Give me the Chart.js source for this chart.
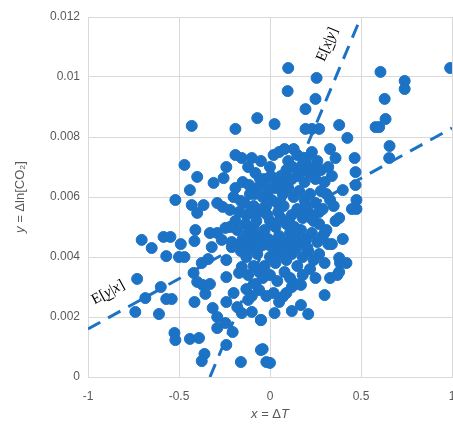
<!DOCTYPE html>
<html><head><meta charset="utf-8">
<script src="https://cdn.jsdelivr.net/npm/chart.js@4"></script>
<style>body{margin:0;background:#fff}#w{width:453px;height:426px}</style>
</head><body><div id="w"><canvas id="c"></canvas></div>
<script>
const xTicks=[-1,-0.5,0,0.5,1];
const yTicks=[0,0.002,0.004,0.006,0.008,0.01,0.012];
const xVals=[0.10,0.256,0.097,0.25,0.195,0.025,0.195,0.23,0.27,0.38,0.425,0.607,0.74,0.74,0.63,0.635,0.58,0.60,0.657,0.655,0.99,0.465,0.47,0.475,0.475,0.45,0.47,0.40,0.33,0.36,0.32,0.34,0.38,0.385,0.37,0.30,0.21,0.17,0.12,0.07,0.025,-0.05,-0.04,0.0,0.17,0.12,0.30,
-0.43,-0.19,-0.07,-0.47,-0.40,-0.44,-0.52,-0.43,-0.365,-0.40,-0.31,-0.255,-0.24,-0.19,-0.19,-0.155,-0.29,-0.26,-0.22,-0.16,-0.41,-0.415,-0.705,-0.65,-0.585,-0.547,-0.49,-0.57,-0.50,-0.47,-0.73,-0.685,-0.57,-0.54,-0.60,-0.74,-0.61,-0.42,-0.40,-0.37,-0.33,-0.355,-0.415,-0.315,-0.525,-0.52,-0.44,-0.39,-0.36,-0.375,-0.24,-0.16,-0.29,-0.245,-0.205,-0.29,-0.24,-0.20,-0.18,-0.155,-0.10,-0.05,-0.05,-0.02,-0.13,-0.12,-0.24,-0.375,-0.34,-0.32,-0.33,-0.29,-0.245,-0.265,-0.21,-0.24,-0.155,-0.17,
-0.15,-0.12,-0.10,-0.08,-0.05,-0.03,0.0,0.02,0.05,0.08,0.1,0.13,0.15,0.18,0.2,0.23,0.26,0.28,0.25,0.22,0.19,0.16,0.12,0.09,0.06,0.03,-0.01,-0.04,-0.07,-0.11,-0.14,-0.17,-0.19,-0.13,-0.09,-0.06,-0.02,0.01,0.04,0.07,0.10,0.13,0.16,0.19,0.22,0.25,0.28,0.30,0.27,0.24,0.21,0.18,0.15,0.12,0.09,0.06,0.03,0.0,-0.03,-0.06,-0.09,-0.12,-0.15,-0.18,-0.21,-0.16,-0.13,-0.10,-0.07,-0.04,-0.01,0.02,0.05,0.08,0.11,0.14,0.17,0.20,0.23,0.26,0.29,0.27,0.24,0.21,0.18,0.15,0.12,0.09,0.06,0.03,0.0,-0.03,-0.06,-0.09,-0.12,-0.08,-0.04,0.0,0.04,0.08,0.11,0.14,0.18,0.22,0.25,0.02,-0.02,0.05,-0.06,0.09,-0.1,
0.32,0.34,0.36,0.33,0.31,0.35,0.38,0.4,0.42,0.38,0.33,0.3,
-0.135,-0.105,-0.075,-0.045,-0.015,0.015,0.045,0.075,0.105,0.135,0.165,0.195,0.225,-0.125,-0.095,-0.065,-0.035,-0.005,0.025,0.055,0.085,0.115,0.145,0.175,0.205,-0.115,-0.085,-0.055,-0.025,0.005,0.035,0.065,0.095,0.125,0.155,0.185,0.215,0.245,-0.2,-0.22,-0.18,0.27,0.29,0.31];
const yVals=[0.0103,0.00997,0.00953,0.00927,0.00893,0.00843,0.00827,0.00827,0.00827,0.0084,0.00797,0.01017,0.00987,0.0096,0.00927,0.0086,0.00833,0.00833,0.0077,0.0073,0.0103,0.0073,0.00683,0.0059,0.0056,0.0056,0.0064,0.00623,0.0059,0.0052,0.00443,0.00443,0.00397,0.0038,0.0034,0.00273,0.0021,0.0024,0.0022,0.00267,0.00213,0.0019,0.00093,0.00047,0.00307,0.003,0.0048,
0.00837,0.00827,0.00863,0.00707,0.00667,0.00623,0.0059,0.00573,0.00573,0.00547,0.00647,0.00663,0.007,0.0074,0.0063,0.0073,0.0058,0.00567,0.00557,0.00587,0.0049,0.00453,0.00457,0.0043,0.00467,0.00467,0.00443,0.00403,0.004,0.004,0.00327,0.00263,0.0026,0.0026,0.003,0.00217,0.0021,0.00347,0.00317,0.00307,0.0031,0.00277,0.0025,0.0023,0.00147,0.00123,0.00127,0.0013,0.00077,0.00053,0.00107,0.0005,0.00163,0.0018,0.0015,0.002,0.0025,0.0028,0.00233,0.00213,0.00217,0.0019,0.0009,0.0005,0.00293,0.00257,0.00333,0.0038,0.00393,0.00433,0.0048,0.0048,0.00497,0.00457,0.00433,0.0039,0.00367,0.00347,
0.0065,0.0070,0.0073,0.0068,0.0072,0.0066,0.0070,0.0074,0.0075,0.0076,0.0072,0.0076,0.0074,0.0071,0.0073,0.0075,0.0072,0.0069,0.0066,0.0068,0.0065,0.0068,0.0066,0.0069,0.0067,0.0063,0.0062,0.0060,0.0063,0.0061,0.0058,0.0055,0.0052,0.0054,0.0057,0.0055,0.0057,0.0059,0.0058,0.0061,0.0063,0.0060,0.0062,0.0059,0.0061,0.0058,0.0062,0.0065,0.0055,0.0052,0.0055,0.0053,0.0056,0.0054,0.0051,0.0053,0.0050,0.0052,0.0049,0.0047,0.0050,0.0048,0.0046,0.0049,0.0045,0.0042,0.0040,0.0043,0.0041,0.0044,0.0046,0.0045,0.0047,0.0045,0.0048,0.0046,0.0049,0.0046,0.0048,0.0045,0.0047,0.0041,0.0039,0.0042,0.0040,0.0037,0.0041,0.0039,0.0041,0.0038,0.0040,0.0037,0.0035,0.0037,0.0034,0.0031,0.0033,0.0034,0.0032,0.0035,0.0033,0.0031,0.0034,0.0036,0.0033,0.0028,0.0027,0.0025,0.0029,0.0028,0.0027,
0.0070,0.0067,0.0073,0.0076,0.0061,0.0057,0.0053,0.0046,0.0038,0.0035,0.0033,0.0038,
0.0051,0.0055,0.0052,0.0056,0.0054,0.0051,0.0055,0.0057,0.0052,0.0050,0.0055,0.0057,0.0053,0.0044,0.0046,0.0043,0.0047,0.0044,0.0042,0.0044,0.0042,0.0044,0.0043,0.0045,0.0043,0.0064,0.0061,0.0066,0.0064,0.0067,0.0065,0.0064,0.0066,0.0070,0.0067,0.0069,0.0070,0.0069,0.0060,0.0050,0.0044,0.0051,0.0056,0.0049];
const lineYX=[[-1,0.0016],[1,0.0083]];
const lineXY=[[-0.33,0],[0.5,0.012]];
const BLUE='#1c72c4';
const pts=xVals.map((x,i)=>({x,y:yVals[i]}));
const labels={
 id:'lbl',
 afterDraw(ch){
  const c=ch.ctx,xs=ch.scales.x,ys=ch.scales.y;
  function lab(line,t,px,py){
   const a=xs.getPixelForValue(line[0][0]),b=ys.getPixelForValue(line[0][1]);
   const e=xs.getPixelForValue(line[1][0]),f=ys.getPixelForValue(line[1][1]);
   const ang=Math.atan2(f-b,e-a);
   c.save();c.translate(px,py);c.rotate(ang);c.fillStyle='#000';c.textBaseline='alphabetic';
   const parts=[['E[','15px "Liberation Serif"'],[t[0],'italic 15px "Liberation Serif"'],['|','15px "Liberation Serif"'],[t[1],'italic 15px "Liberation Serif"'],[']','15px "Liberation Serif"']];
   let w=0;parts.forEach(p=>{c.font=p[1];w+=c.measureText(p[0]).width;});
   let x=-w/2;
   parts.forEach((p,i)=>{c.font=p[1];const pw=c.measureText(p[0]).width;c.fillText(p[0],x,0);
     if(i==1){c.fillRect(x,3,pw,1);}x+=pw;});
   c.restore();
  }
  lab(lineYX,['y','x'],110,296);
  lab(lineXY,['x','y'],331,46);
  c.save();c.fillStyle='#595959';
  c.font='12px "Liberation Sans"';c.textAlign='center';c.textBaseline='middle';
  xTicks.forEach(v=>c.fillText(String(v),xs.getPixelForValue(v),397));
  c.textAlign='left';
  const xp=[['x','italic 13px "Liberation Sans"'],[' = Δ','13px "Liberation Sans"'],['T','italic 13px "Liberation Sans"']];
  let w=0;xp.forEach(p=>{c.font=p[1];w+=c.measureText(p[0]).width;});
  let x=xs.getPixelForValue(0)-w/2;
  xp.forEach(p=>{c.font=p[1];c.fillText(p[0],x,414);x+=c.measureText(p[0]).width;});
  c.translate(20,ys.getPixelForValue(0.006));c.rotate(-Math.PI/2);
  const yp=[['y','italic 13px "Liberation Sans"'],[' = Δln[CO₂]','13px "Liberation Sans"']];
  w=0;yp.forEach(p=>{c.font=p[1];w+=c.measureText(p[0]).width;});
  x=-w/2;yp.forEach(p=>{c.font=p[1];c.fillText(p[0],x,0);x+=c.measureText(p[0]).width;});
  c.restore();
 }
};
new Chart(document.getElementById('c'),{
 data:{datasets:[
  {type:'scatter',data:pts,backgroundColor:BLUE,borderColor:BLUE,pointRadius:5.5,pointHoverRadius:5.5,order:2},
  {type:'line',data:lineYX.map(p=>({x:p[0],y:p[1]})),borderColor:BLUE,borderWidth:3,borderDash:[14,9],pointRadius:0,order:1},
  {type:'line',data:lineXY.map(p=>({x:p[0],y:p[1]})),borderColor:BLUE,borderWidth:3,borderDash:[14,9],pointRadius:0,order:1}
 ]},
 options:{responsive:true,maintainAspectRatio:false,animation:false,
  layout:{autoPadding:false,padding:{top:17,right:1,left:0,bottom:0}},
  plugins:{legend:{display:false},tooltip:{enabled:false}},
  scales:{
   x:{type:'linear',min:-1,max:1,afterBuildTicks(s){s.ticks=xTicks.map(v=>({value:v}));},
      afterFit(s){s.height=49;s.paddingLeft=0;s.paddingRight=0;},
      grid:{color:'#d9d9d9',drawTicks:false},border:{color:'#d9d9d9'},
      ticks:{padding:9,maxRotation:0,color:'#595959',font:{family:'Liberation Sans',size:12},callback:()=>''}},
   y:{type:'linear',min:0,max:0.012,afterBuildTicks(s){s.ticks=yTicks.map(v=>({value:v}));},
      afterFit(s){s.width=88;s.paddingTop=0;s.paddingBottom=0;},
      grid:{color:'#d9d9d9',drawTicks:false},border:{color:'#d9d9d9'},
      ticks:{padding:8,color:'#595959',font:{family:'Liberation Sans',size:12},callback:v=>String(v)}}
  }},
 plugins:[labels]
});
</script></body></html>
